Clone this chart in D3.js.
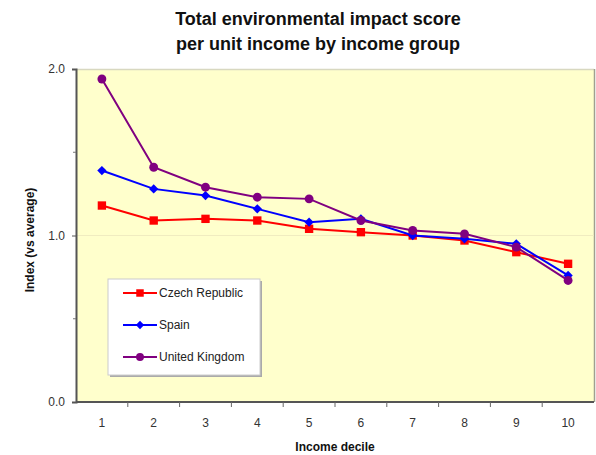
<!DOCTYPE html>
<html>
<head>
<meta charset="utf-8">
<script src="https://cdn.jsdelivr.net/npm/d3@7"></script>
<style>
  html, body { margin: 0; padding: 0; background: #fff; }
  svg { display: block; font-family: "Liberation Sans", Arial, sans-serif; }
</style>
</head>
<body>
<svg id="chart" width="596" height="455"></svg>
<script>
// Income deciles and index values per country (1.0 = average)
const deciles = ["1", "2", "3", "4", "5", "6", "7", "8", "9", "10"];
const czechRepublic = [1.18, 1.09, 1.10, 1.09, 1.04, 1.02, 1.00, 0.97, 0.90, 0.83];
const spain        = [1.39, 1.28, 1.24, 1.16, 1.08, 1.10, 1.00, 0.98, 0.95, 0.76];
const unitedKingdom = [1.94, 1.41, 1.29, 1.23, 1.22, 1.09, 1.03, 1.01, 0.93, 0.73];
const yTicks = [0, 1, 2];

const series = [
  { name: "Czech Republic", values: czechRepublic, color: "#ff0000", symbol: "square" },
  { name: "Spain",          values: spain,         color: "#0000ff", symbol: "diamond" },
  { name: "United Kingdom", values: unitedKingdom, color: "#800080", symbol: "circle" }
];

const svg = d3.select("#chart");
const plot = { left: 76, right: 594, top: 69, bottom: 402 };

const x = d3.scaleBand().domain(deciles).range([plot.left, plot.right]);
const y = d3.scaleLinear().domain([0, 2]).range([plot.bottom, plot.top]);

// Title
const titleLines = ["Total environmental impact score", "per unit income by income group"];
svg.append("g").selectAll("text")
  .data(titleLines)
  .join("text")
  .attr("x", 318).attr("y", (d, i) => 25 + i * 25)
  .attr("text-anchor", "middle")
  .attr("font-size", 18).attr("font-weight", "bold").attr("fill", "#111")
  .text(d => d);

// Plot background
svg.append("rect")
  .attr("x", plot.left).attr("y", plot.top)
  .attr("width", plot.right - plot.left).attr("height", plot.bottom - plot.top)
  .attr("fill", "#ffffcc");
// top and right frame
svg.append("line")
  .attr("x1", plot.left).attr("x2", plot.right)
  .attr("y1", plot.top + 0.5).attr("y2", plot.top + 0.5)
  .attr("stroke", "#d8d8c0").attr("stroke-width", 1.5);
svg.append("line")
  .attr("x1", plot.right + 0.5).attr("x2", plot.right + 0.5)
  .attr("y1", plot.top).attr("y2", plot.bottom)
  .attr("stroke", "#a0a090").attr("stroke-width", 1.5);

// Faint gridline at the average
svg.append("line")
  .attr("x1", plot.left).attr("x2", plot.right)
  .attr("y1", y(1)).attr("y2", y(1))
  .attr("stroke", "#f0ecc0").attr("stroke-width", 1);

// Y axis
const yAxis = d3.axisLeft(y)
  .tickValues(yTicks)
  .tickFormat(d3.format(".1f"))
  .tickSize(4).tickPadding(7);
const gy = svg.append("g")
  .attr("transform", `translate(${plot.left},0)`)
  .call(yAxis);
gy.select(".domain").attr("stroke", "#555").attr("stroke-width", 2);
gy.selectAll(".tick line").attr("stroke", "#555");
gy.selectAll(".tick text").attr("font-size", 12).attr("fill", "#333")
  .attr("font-family", "'Liberation Sans', Arial, sans-serif");
// minor ticks at half steps
svg.append("g").selectAll("line")
  .data([0.5, 1.5])
  .join("line")
  .attr("x1", plot.left - 3).attr("x2", plot.left)
  .attr("y1", d => y(d)).attr("y2", d => y(d))
  .attr("stroke", "#777");

// X axis: ticks sit between categories
const gx = svg.append("g")
  .attr("transform", `translate(0,${plot.bottom})`);
gx.append("line")
  .attr("x1", plot.left).attr("x2", plot.right)
  .attr("stroke", "#555").attr("stroke-width", 2);
gx.selectAll("line.tick")
  .data(deciles.slice(1))
  .join("line")
  .attr("class", "tick")
  .attr("x1", d => x(d)).attr("x2", d => x(d))
  .attr("y1", 0).attr("y2", 5)
  .attr("stroke", "#666");
gx.selectAll("text")
  .data(deciles)
  .join("text")
  .attr("x", d => x(d) + x.bandwidth() / 2)
  .attr("y", 25)
  .attr("text-anchor", "middle")
  .attr("font-size", 12).attr("fill", "#333")
  .text(d => d);

// Axis titles
svg.append("text")
  .attr("x", 335).attr("y", 451)
  .attr("text-anchor", "middle")
  .attr("font-size", 12).attr("font-weight", "bold").attr("fill", "#111")
  .text("Income decile");
svg.append("text")
  .attr("transform", `translate(34,240) rotate(-90)`)
  .attr("text-anchor", "middle")
  .attr("font-size", 12).attr("font-weight", "bold").attr("fill", "#111")
  .text("Index (vs average)");

const symbolType = { square: d3.symbolSquare, diamond: d3.symbolDiamond2, circle: d3.symbolCircle };
const symbolSize = { square: 70, diamond: 55, circle: 62 };

const line = d3.line()
  .x((d, i) => x(deciles[i]) + x.bandwidth() / 2)
  .y(d => y(d));

series.forEach(s => {
  svg.append("path")
    .datum(s.values)
    .attr("fill", "none")
    .attr("stroke", s.color)
    .attr("stroke-width", 2)
    .attr("d", line);
  svg.append("g").selectAll("path")
    .data(s.values)
    .join("path")
    .attr("transform", (d, i) => `translate(${x(deciles[i]) + x.bandwidth() / 2},${y(d)})`)
    .attr("d", d3.symbol(symbolType[s.symbol], symbolSize[s.symbol]))
    .attr("fill", s.color);
});

// Legend
const legend = svg.append("g");
legend.append("rect")
  .attr("x", 110).attr("y", 281).attr("width", 152).attr("height", 96)
  .attr("fill", "#aaa");
legend.append("rect")
  .attr("x", 108).attr("y", 279).attr("width", 152).attr("height", 96)
  .attr("fill", "#fff").attr("stroke", "#ccc").attr("stroke-width", 1);
series.forEach((s, i) => {
  const ly = 293 + i * 32;
  legend.append("line")
    .attr("x1", 123).attr("x2", 157).attr("y1", ly).attr("y2", ly)
    .attr("stroke", s.color).attr("stroke-width", 2);
  legend.append("path")
    .attr("transform", `translate(140,${ly})`)
    .attr("d", d3.symbol(symbolType[s.symbol], symbolSize[s.symbol] * 0.8))
    .attr("fill", s.color);
  legend.append("text")
    .attr("x", 159).attr("y", ly + 4)
    .attr("font-size", 12).attr("fill", "#222")
    .text(s.name);
});
</script>
</body>
</html>
